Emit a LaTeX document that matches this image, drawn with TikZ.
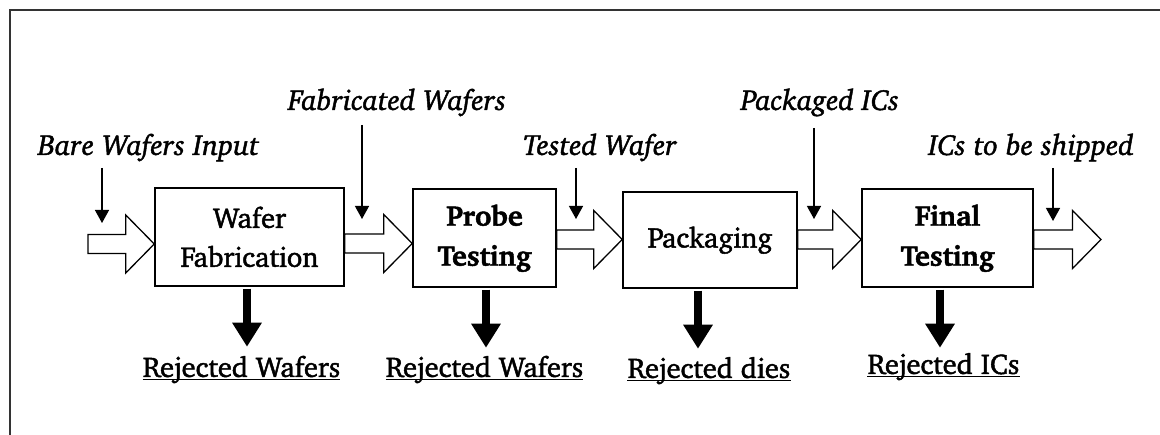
\documentclass[tikz,border=0pt]{standalone}
\usepackage[T1]{fontenc}
\usepackage{charter}
\usetikzlibrary{arrows.meta,calc}
\definecolor{framegray}{HTML}{333333}
% slightly heavier glyphs: fill and stroke the text outlines
\newcommand\heavytext{\special{pdf:literal direct 2 Tr 0.45 w}}
\newcommand\plaintext{\special{pdf:literal direct 0 Tr}}
\tikzset{
  stage/.style={draw, line width=1.5pt, align=center, inner sep=0pt,
    font=\fontsize{28.5}{39}\selectfont},
  boldstage/.style={stage, font=\fontsize{28.5}{40}\selectfont\bfseries},
  flowlabel/.style={font=\fontsize{29}{32}\selectfont\itshape, anchor=base},
  rejlabel/.style={font=\fontsize{28.5}{32}\selectfont, anchor=base, inner sep=0pt},
  hollow/.style={draw, fill=white, line width=1.3pt, line join=miter},
  pointer/.style={line width=1.3pt, -{Triangle[width=14pt,length=13pt]}},
  reject/.style={line width=8pt, -{Triangle[width=28pt,length=24pt]}},
  uline/.style={line width=1.5pt},
  frame/.style={draw=framegray, line width=2pt}
}
% block arrow from #1 (tail, centre of shaft) to #2 (tip)
\newcommand\blockarrow[2]{%
  \path[hollow] let \p1=(#1), \p2=(#2) in
    (\x1,\y1+9.5pt) -- (\x2-28.5pt,\y1+9.5pt) -- (\x2-28.5pt,\y1+29pt) --
    (\x2,\y1) -- (\x2-28.5pt,\y1-29pt) -- (\x2-28.5pt,\y1-9.5pt) --
    (\x1,\y1-9.5pt) -- cycle;}
% underline a reject label a little below its baseline
\newcommand\rejline[1]{%
  \draw[uline] ([yshift=-2.5pt]#1.base west) -- ([yshift=-2.5pt]#1.base east);}
\begin{document}
\begin{tikzpicture}[x=1pt,y=-1pt]
\useasboundingbox (0,0) rectangle (1160,435);
\draw[frame] (1162,10) -| (10,437);

% process stages
\node[stage, minimum width=189, minimum height=98] (fab) at (249.5,237) {\heavytext Wafer\\Fabrication\plaintext};
\node[boldstage, minimum width=143, minimum height=98] (probe) at (484.5,238) {\heavytext Probe\\Testing\plaintext};
\node[stage, minimum width=174, minimum height=96] (pack) at (710,240) {\heavytext Packaging\plaintext};
\node[boldstage, minimum width=171, minimum height=98] (final) at (947.5,238) {\heavytext Final\\Testing\plaintext};

% material flow between the stages
\coordinate (in) at (88,244);
\coordinate (out) at (1101,239.5);
\blockarrow{in}{in -| fab.west}
\blockarrow{fab.east |- 0,243.5}{probe.west |- 0,243.5}
\blockarrow{probe.east |- 0,239.5}{pack.west |- 0,239.5}
\blockarrow{pack.east |- 0,239.5}{final.west |- 0,239.5}
\blockarrow{final.east |- out}{out}

% flow labels
\node[flowlabel] (l0) at (148.5,155) {\heavytext Bare Wafers Input\plaintext};
\node[flowlabel] (l1) at (397,110) {\heavytext Fabricated Wafers\plaintext};
\node[flowlabel] (l2) at (600,155) {\heavytext Tested Wafer\plaintext};
\node[flowlabel] (l3) at (820,110) {\heavytext Packaged ICs\plaintext};
\node[flowlabel] (l4) at (1031,155) {\heavytext ICs to be shipped\plaintext};

\coordinate (p0a) at (102,168);  \coordinate (p0b) at (102,223);
\coordinate (p1a) at (362,125);  \coordinate (p1b) at (362,219);
\coordinate (p2a) at (576,168);  \coordinate (p2b) at (576,219);
\coordinate (p3a) at (814,128);  \coordinate (p3b) at (814,219);
\coordinate (p4a) at (1053,168); \coordinate (p4b) at (1053,221);
\draw[pointer] (p0a) -- (p0b);
\draw[pointer] (p1a) -- (p1b);
\draw[pointer] (p2a) -- (p2b);
\draw[pointer] (p3a) -- (p3b);
\draw[pointer] (p4a) -- (p4b);

% rejects
\node[rejlabel] (r1) at (241.5,377) {\heavytext Rejected Wafers\plaintext};
\node[rejlabel] (r2) at (484.5,377) {\heavytext Rejected Wafers\plaintext};
\node[rejlabel] (r3) at (709,378) {\heavytext Rejected dies\plaintext};
\node[rejlabel] (r4) at (943.5,374) {\heavytext Rejected ICs\plaintext};
\rejline{r1}\rejline{r2}\rejline{r3}\rejline{r4}

\draw[reject] ([xshift=-2.5pt,yshift=-2pt]fab.south) -- ++(0,58);
\draw[reject] ([xshift=1.5pt,yshift=-2pt]probe.south) -- ++(0,58);
\draw[reject] ([xshift=-12pt,yshift=-2pt]pack.south) -- ++(0,58);
\draw[reject] ([xshift=-7.5pt,yshift=-2pt]final.south) -- ++(0,58);
\end{tikzpicture}
\end{document}
